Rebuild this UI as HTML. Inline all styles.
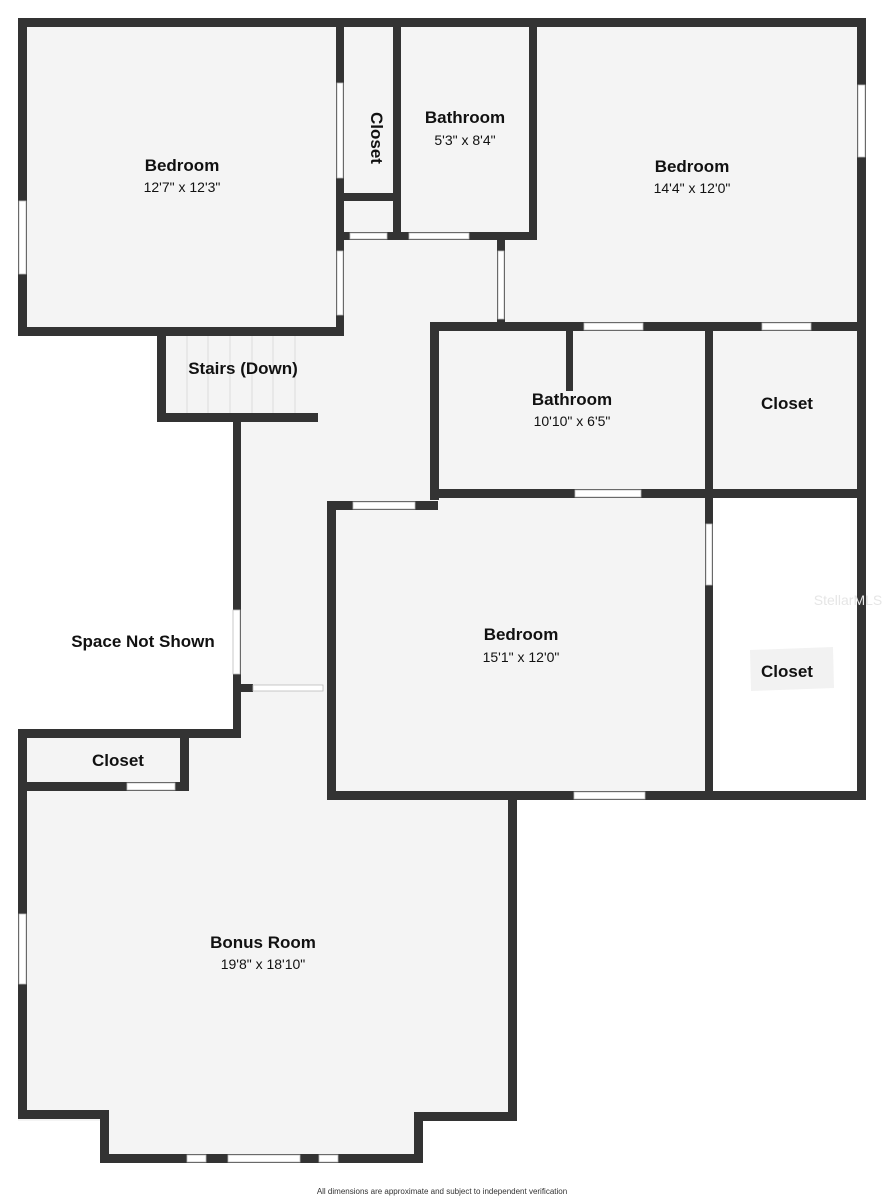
<!DOCTYPE html>
<html><head><style>
html,body{margin:0;padding:0;background:#fff;}
svg{display:block;}
text{font-family:"Liberation Sans",sans-serif;fill:#111;}
.n{font-size:17px;font-weight:bold;text-anchor:middle;}
.d{font-size:14px;text-anchor:middle;}
</style></head><body>
<svg width="885" height="1200" viewBox="0 0 885 1200" xmlns="http://www.w3.org/2000/svg">
<g fill="#f4f4f4">
<rect x="18" y="18" width="847" height="318"/>
<rect x="157" y="327" width="161" height="95"/>
<rect x="233" y="322" width="197" height="478"/>
<rect x="430" y="322" width="435" height="478"/>
<rect x="18" y="729" width="499" height="392"/>
<rect x="100" y="1111" width="323" height="52"/>
</g>
<rect x="713" y="498" width="144" height="293" fill="#fff"/>
<polygon points="750,650 833,647 834,688 751,691" fill="#f2f2f2"/>
<g stroke="#ddd" stroke-width="1">
<line x1="187" y1="336" x2="187" y2="413"/><line x1="208" y1="336" x2="208" y2="413"/>
<line x1="230" y1="336" x2="230" y2="413"/><line x1="252" y1="336" x2="252" y2="413"/>
<line x1="273" y1="336" x2="273" y2="413"/><line x1="295" y1="336" x2="295" y2="413"/>
</g>
<g fill="#333">
<!-- top & outer -->
<rect x="18" y="18" width="847" height="9"/>
<rect x="18" y="18" width="9" height="318"/>
<rect x="18" y="327" width="326" height="9"/>
<rect x="336" y="18" width="8" height="318"/>
<rect x="393" y="18" width="8" height="222"/>
<rect x="344" y="193" width="54" height="8"/>
<rect x="336" y="232" width="201" height="8"/>
<rect x="529" y="18" width="8" height="222"/>
<rect x="497" y="232" width="8" height="98"/>
<rect x="857" y="18" width="9" height="782"/>
<!-- stairs -->
<rect x="157" y="327" width="9" height="95"/>
<rect x="157" y="413" width="161" height="9"/>
<rect x="233" y="413" width="8" height="325"/>
<!-- bath2 block -->
<rect x="430" y="322" width="436" height="9"/>
<rect x="430" y="322" width="9" height="178"/>
<rect x="566" y="322" width="7" height="69"/>
<rect x="705" y="322" width="8" height="478"/>
<rect x="430" y="489" width="436" height="9"/>
<!-- bedroom3 -->
<rect x="327" y="501" width="111" height="9"/>
<rect x="327" y="501" width="9" height="299"/>
<rect x="327" y="791" width="539" height="9"/>
<rect x="233" y="684" width="20" height="8"/>
<!-- bonus -->
<rect x="18" y="729" width="223" height="9"/>
<rect x="18" y="729" width="9" height="390"/>
<rect x="180" y="729" width="9" height="62"/>
<rect x="18" y="782" width="171" height="9"/>
<rect x="508" y="791" width="9" height="330"/>
<rect x="18" y="1110" width="91" height="9"/>
<rect x="100" y="1110" width="9" height="53"/>
<rect x="100" y="1154" width="323" height="9"/>
<rect x="414" y="1112" width="9" height="51"/>
<rect x="414" y="1112" width="103" height="9"/>
</g>
<!-- doors / windows -->
<g fill="#fff" stroke="#bbb" stroke-width="0.8">
<rect x="337" y="83" width="6" height="95"/>
<rect x="337" y="251" width="6" height="64"/>
<rect x="19" y="201" width="7" height="73"/>
<rect x="350" y="233" width="37" height="6"/>
<rect x="409" y="233" width="60" height="6"/>
<rect x="498" y="251" width="6" height="68"/>
<rect x="858" y="85" width="7" height="72"/>
<rect x="584" y="323" width="59" height="7"/>
<rect x="762" y="323" width="49" height="7"/>
<rect x="575" y="490" width="66" height="7"/>
<rect x="706" y="524" width="6" height="61"/>
<rect x="353" y="502" width="62" height="7"/>
<rect x="233" y="610" width="7" height="64"/>
<rect x="253" y="685" width="70" height="6"/>
<rect x="574" y="792" width="71" height="7"/>
<rect x="127" y="783" width="48" height="7"/>
<rect x="19" y="914" width="7" height="70"/>
<rect x="187" y="1155" width="19" height="7"/>
<rect x="228" y="1155" width="72" height="7"/>
<rect x="319" y="1155" width="19" height="7"/>
</g>
<text class="n" x="182" y="171">Bedroom</text><text class="d" x="182" y="192">12'7" x 12'3"</text>
<text class="n" x="465" y="123">Bathroom</text><text class="d" x="465" y="145">5'3" x 8'4"</text>
<text class="n" x="692" y="172">Bedroom</text><text class="d" x="692" y="193">14'4" x 12'0"</text>
<text class="n" transform="translate(371,138) rotate(90)" x="0" y="0">Closet</text>
<text class="n" x="243" y="374">Stairs (Down)</text>
<text class="n" x="572" y="405">Bathroom</text><text class="d" x="572" y="426">10'10" x 6'5"</text>
<text class="n" x="787" y="409">Closet</text>
<text class="n" x="143" y="647">Space Not Shown</text>
<text class="n" x="521" y="640">Bedroom</text><text class="d" x="521" y="662">15'1" x 12'0"</text>
<text class="n" x="787" y="677">Closet</text>
<text class="n" x="118" y="766">Closet</text>
<text class="n" x="263" y="948">Bonus Room</text><text class="d" x="263" y="969">19'8" x 18'10"</text>
<text x="848" y="605" style="font-size:14px;fill:#e6e6e6;text-anchor:middle">StellarMLS</text>
<text x="442" y="1194" style="font-size:8px;fill:#333;text-anchor:middle">All dimensions are approximate and subject to independent verification</text>
</svg>
</body></html>
